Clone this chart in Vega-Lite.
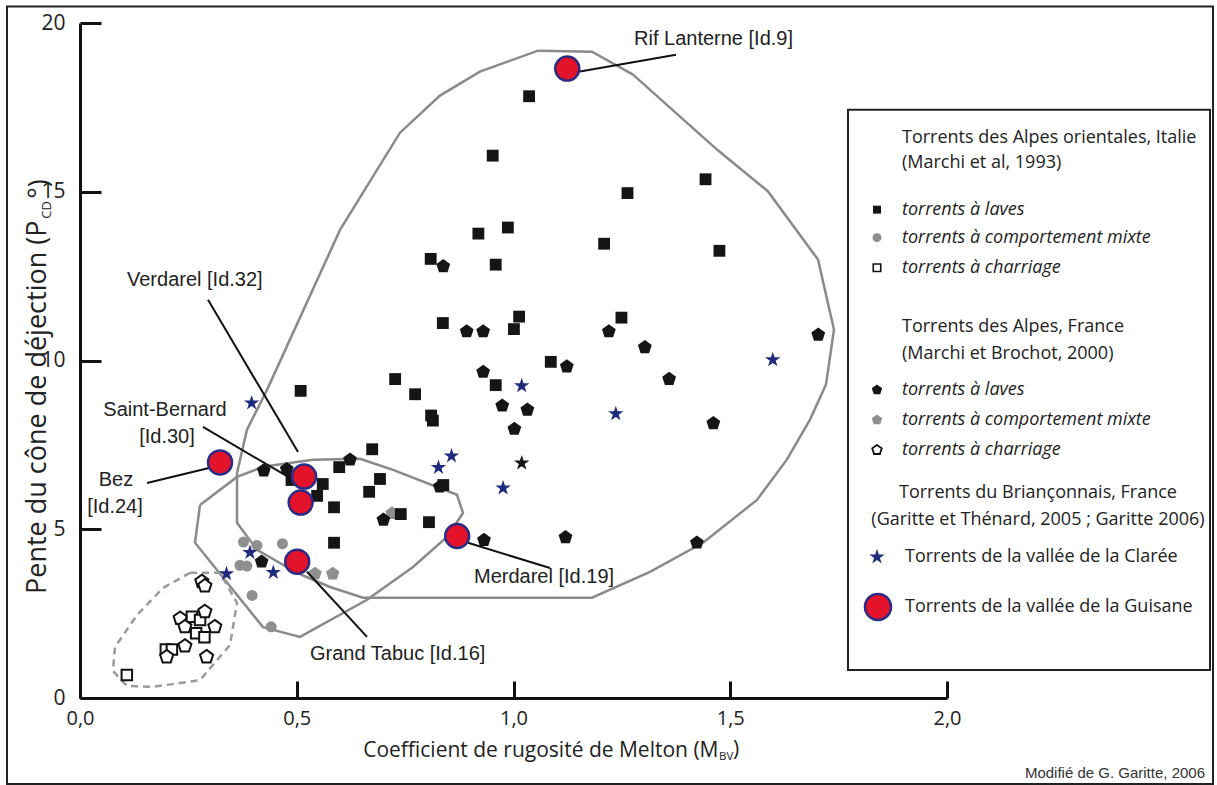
{
  "$schema": "https://vega.github.io/schema/vega-lite/v6.json",
  "width": 867,
  "height": 675,
  "autosize": {"type": "none"},
  "padding": {"left": 80, "top": 23, "right": 270, "bottom": 87},
  "background": "white",
  "config": {"view": {"stroke": null}, "axis": {"grid": false}},
  "datasets": {
    "boxes": [
      {"x": -0.1684, "y": 20.49, "x2": 2.6136, "y2": -2.55},
      {"x": 1.7716, "y": 17.43, "x2": 2.6067, "y2": 0.83}
    ],
    "poly": [
      {"p": "P1", "i": 0, "x": 1.2757, "y": 18.47},
      {"p": "P1", "i": 1, "x": 1.4694, "y": 16.25},
      {"p": "P1", "i": 2, "x": 1.5871, "y": 15.01},
      {"p": "P1", "i": 3, "x": 1.7024, "y": 12.99},
      {"p": "P1", "i": 4, "x": 1.7393, "y": 10.92},
      {"p": "P1", "i": 5, "x": 1.7209, "y": 9.29},
      {"p": "P1", "i": 6, "x": 1.684, "y": 8.25},
      {"p": "P1", "i": 7, "x": 1.6309, "y": 7.07},
      {"p": "P1", "i": 8, "x": 1.5617, "y": 5.87},
      {"p": "P1", "i": 9, "x": 1.4371, "y": 4.6},
      {"p": "P1", "i": 10, "x": 1.3149, "y": 3.74},
      {"p": "P1", "i": 11, "x": 1.1811, "y": 2.97},
      {"p": "P1", "i": 12, "x": 0.6528, "y": 2.97},
      {"p": "P1", "i": 13, "x": 0.5767, "y": 3.29},
      {"p": "P1", "i": 14, "x": 0.5006, "y": 3.71},
      {"p": "P1", "i": 15, "x": 0.4083, "y": 4.39},
      {"p": "P1", "i": 16, "x": 0.3622, "y": 5.19},
      {"p": "P1", "i": 17, "x": 0.3622, "y": 6.67},
      {"p": "P1", "i": 18, "x": 0.3852, "y": 7.95},
      {"p": "P1", "i": 19, "x": 0.4314, "y": 9.13},
      {"p": "P1", "i": 20, "x": 0.5998, "y": 13.87},
      {"p": "P1", "i": 21, "x": 0.7382, "y": 16.75},
      {"p": "P1", "i": 22, "x": 0.8304, "y": 17.85},
      {"p": "P1", "i": 23, "x": 0.9227, "y": 18.56},
      {"p": "P1", "i": 24, "x": 1.0565, "y": 19.18},
      {"p": "P1", "i": 25, "x": 1.1811, "y": 19.15},
      {"p": "P1", "i": 26, "x": 1.2757, "y": 18.47},
      {"p": "P2", "i": 0, "x": 0.2768, "y": 5.72},
      {"p": "P2", "i": 1, "x": 0.3622, "y": 6.55},
      {"p": "P2", "i": 2, "x": 0.4221, "y": 6.85},
      {"p": "P2", "i": 3, "x": 0.5375, "y": 7.06},
      {"p": "P2", "i": 4, "x": 0.6459, "y": 7.09},
      {"p": "P2", "i": 5, "x": 0.722, "y": 6.76},
      {"p": "P2", "i": 6, "x": 0.8697, "y": 6.02},
      {"p": "P2", "i": 7, "x": 0.8835, "y": 5.48},
      {"p": "P2", "i": 8, "x": 0.8466, "y": 4.77},
      {"p": "P2", "i": 9, "x": 0.7682, "y": 3.88},
      {"p": "P2", "i": 10, "x": 0.6621, "y": 2.91},
      {"p": "P2", "i": 11, "x": 0.5075, "y": 1.81},
      {"p": "P2", "i": 12, "x": 0.4221, "y": 2.1},
      {"p": "P2", "i": 13, "x": 0.2653, "y": 4.6},
      {"p": "P2", "i": 14, "x": 0.2768, "y": 5.72},
      {"p": "P3", "i": 0, "x": 0.2537, "y": 3.71},
      {"p": "P3", "i": 1, "x": 0.323, "y": 3.71},
      {"p": "P3", "i": 2, "x": 0.3622, "y": 2.82},
      {"p": "P3", "i": 3, "x": 0.346, "y": 1.57},
      {"p": "P3", "i": 4, "x": 0.2768, "y": 0.53},
      {"p": "P3", "i": 5, "x": 0.1684, "y": 0.33},
      {"p": "P3", "i": 6, "x": 0.1084, "y": 0.36},
      {"p": "P3", "i": 7, "x": 0.0761, "y": 0.8},
      {"p": "P3", "i": 8, "x": 0.0807, "y": 1.51},
      {"p": "P3", "i": 9, "x": 0.1315, "y": 2.46},
      {"p": "P3", "i": 10, "x": 0.1915, "y": 3.26},
      {"p": "P3", "i": 11, "x": 0.2537, "y": 3.71}
    ],
    "pts": [
      {"g": "it_laves", "x": 1.036, "y": 17.83},
      {"g": "it_laves", "x": 0.952, "y": 16.07},
      {"g": "it_laves", "x": 1.443, "y": 15.37},
      {"g": "it_laves", "x": 1.263, "y": 14.96},
      {"g": "it_laves", "x": 0.919, "y": 13.76},
      {"g": "it_laves", "x": 0.987, "y": 13.94},
      {"g": "it_laves", "x": 1.209, "y": 13.46},
      {"g": "it_laves", "x": 1.475, "y": 13.25},
      {"g": "it_laves", "x": 0.809, "y": 13.01},
      {"g": "it_laves", "x": 0.959, "y": 12.84},
      {"g": "it_laves", "x": 0.837, "y": 11.11},
      {"g": "it_laves", "x": 1.013, "y": 11.3},
      {"g": "it_laves", "x": 1.001, "y": 10.93},
      {"g": "it_laves", "x": 1.249, "y": 11.27},
      {"g": "it_laves", "x": 1.086, "y": 9.96},
      {"g": "it_laves", "x": 0.727, "y": 9.45},
      {"g": "it_laves", "x": 0.773, "y": 9.0},
      {"g": "it_laves", "x": 0.81, "y": 8.37},
      {"g": "it_laves", "x": 0.814, "y": 8.22},
      {"g": "it_laves", "x": 0.959, "y": 9.27},
      {"g": "it_laves", "x": 0.692, "y": 6.49},
      {"g": "it_laves", "x": 0.838, "y": 6.31},
      {"g": "it_laves", "x": 0.74, "y": 5.45},
      {"g": "it_laves", "x": 0.805, "y": 5.21},
      {"g": "it_laves", "x": 0.509, "y": 9.1},
      {"g": "it_laves", "x": 0.674, "y": 7.37},
      {"g": "it_laves", "x": 0.598, "y": 6.84},
      {"g": "it_laves", "x": 0.56, "y": 6.34},
      {"g": "it_laves", "x": 0.547, "y": 5.99},
      {"g": "it_laves", "x": 0.586, "y": 5.65},
      {"g": "it_laves", "x": 0.667, "y": 6.11},
      {"g": "it_laves", "x": 0.586, "y": 4.6},
      {"g": "it_laves", "x": 0.488, "y": 6.46},
      {"g": "it_mixte", "x": 0.377, "y": 4.62},
      {"g": "it_mixte", "x": 0.408, "y": 4.52},
      {"g": "it_mixte", "x": 0.467, "y": 4.57},
      {"g": "it_mixte", "x": 0.369, "y": 3.93},
      {"g": "it_mixte", "x": 0.385, "y": 3.91},
      {"g": "it_mixte", "x": 0.397, "y": 3.04},
      {"g": "it_mixte", "x": 0.441, "y": 2.11},
      {"g": "it_charriage", "x": 0.258, "y": 2.41},
      {"g": "it_charriage", "x": 0.277, "y": 2.31},
      {"g": "it_charriage", "x": 0.268, "y": 1.92},
      {"g": "it_charriage", "x": 0.287, "y": 1.8},
      {"g": "it_charriage", "x": 0.198, "y": 1.44},
      {"g": "it_charriage", "x": 0.212, "y": 1.44},
      {"g": "it_charriage", "x": 0.108, "y": 0.68},
      {"g": "fr_laves", "x": 0.838, "y": 12.79},
      {"g": "fr_laves", "x": 0.892, "y": 10.86},
      {"g": "fr_laves", "x": 0.93, "y": 10.86},
      {"g": "fr_laves", "x": 1.22, "y": 10.86},
      {"g": "fr_laves", "x": 1.303, "y": 10.39},
      {"g": "fr_laves", "x": 1.123, "y": 9.82},
      {"g": "fr_laves", "x": 1.703, "y": 10.76},
      {"g": "fr_laves", "x": 0.93, "y": 9.66},
      {"g": "fr_laves", "x": 1.359, "y": 9.45},
      {"g": "fr_laves", "x": 0.974, "y": 8.66},
      {"g": "fr_laves", "x": 1.032, "y": 8.54},
      {"g": "fr_laves", "x": 1.002, "y": 7.97},
      {"g": "fr_laves", "x": 1.461, "y": 8.14},
      {"g": "fr_laves", "x": 0.83, "y": 6.26},
      {"g": "fr_laves", "x": 0.7, "y": 5.28},
      {"g": "fr_laves", "x": 0.932, "y": 4.68},
      {"g": "fr_laves", "x": 1.12, "y": 4.76},
      {"g": "fr_laves", "x": 1.423, "y": 4.6},
      {"g": "fr_laves", "x": 0.424, "y": 6.74},
      {"g": "fr_laves", "x": 0.477, "y": 6.78},
      {"g": "fr_laves", "x": 0.623, "y": 7.06},
      {"g": "fr_laves", "x": 0.419, "y": 4.04},
      {"g": "fr_mixte", "x": 0.72, "y": 5.47},
      {"g": "fr_mixte", "x": 0.542, "y": 3.68},
      {"g": "fr_mixte", "x": 0.583, "y": 3.68},
      {"g": "fr_charriage", "x": 0.281, "y": 3.45},
      {"g": "fr_charriage", "x": 0.288, "y": 3.32},
      {"g": "fr_charriage", "x": 0.288, "y": 2.56},
      {"g": "fr_charriage", "x": 0.231, "y": 2.36},
      {"g": "fr_charriage", "x": 0.242, "y": 2.11},
      {"g": "fr_charriage", "x": 0.311, "y": 2.11},
      {"g": "fr_charriage", "x": 0.242, "y": 1.54},
      {"g": "fr_charriage", "x": 0.2, "y": 1.22},
      {"g": "fr_charriage", "x": 0.292, "y": 1.22},
      {"g": "claree", "x": 0.396, "y": 8.74},
      {"g": "claree", "x": 1.019, "y": 9.25},
      {"g": "claree", "x": 1.598, "y": 10.02},
      {"g": "claree", "x": 1.236, "y": 8.42},
      {"g": "claree", "x": 0.857, "y": 7.17},
      {"g": "claree", "x": 0.827, "y": 6.83},
      {"g": "claree", "x": 0.976, "y": 6.22},
      {"g": "claree", "x": 0.392, "y": 4.31},
      {"g": "claree", "x": 0.446, "y": 3.72},
      {"g": "claree", "x": 0.338, "y": 3.68},
      {"g": "etoile", "x": 1.019, "y": 6.96},
      {"g": "guisane", "x": 1.124, "y": 18.65, "nom": "Rif Lanterne"},
      {"g": "guisane", "x": 0.323, "y": 6.98, "nom": "Bez"},
      {"g": "guisane", "x": 0.517, "y": 6.56, "nom": "Verdarel"},
      {"g": "guisane", "x": 0.509, "y": 5.79, "nom": "Saint-Bernard"},
      {"g": "guisane", "x": 0.501, "y": 4.04, "nom": "Grand Tabuc"},
      {"g": "guisane", "x": 0.87, "y": 4.8, "nom": "Merdarel"}
    ],
    "leaders": [
      {"x": 1.1534, "y": 18.56, "x2": 1.3749, "y2": 19.06},
      {"x": 0.2953, "y": 11.8, "x2": 0.5029, "y2": 7.29},
      {"x": 0.2837, "y": 8.03, "x2": 0.4844, "y2": 6.52},
      {"x": 0.1546, "y": 6.37, "x2": 0.2999, "y2": 6.82},
      {"x": 0.895, "y": 4.6, "x2": 1.0842, "y2": 3.85},
      {"x": 0.5236, "y": 3.74, "x2": 0.6621, "y2": 1.81}
    ],
    "labelsLeft": [
      {"x": 1.278, "y": 19.54, "t": "Rif Lanterne [Id.9]"},
      {"x": 0.1084, "y": 12.39, "t": "Verdarel [Id.32]"},
      {"x": 0.9089, "y": 3.59, "t": "Merdarel [Id.19]"},
      {"x": 0.5306, "y": 1.3, "t": "Grand Tabuc [Id.16]"}
    ],
    "labelsCenter": [
      {"x": 0.1961, "y": 8.54, "t": "Saint-Bernard"},
      {"x": 0.2007, "y": 7.74, "t": "[Id.30]"},
      {"x": 0.083, "y": 6.46, "t": "Bez"},
      {"x": 0.0807, "y": 5.66, "t": "[Id.24]"}
    ],
    "legpts": [
      {"g": "it_laves", "x": 1.8385, "y": 14.47},
      {"g": "it_mixte", "x": 1.8385, "y": 13.64},
      {"g": "it_charriage", "x": 1.8385, "y": 12.75},
      {"g": "fr_laves", "x": 1.8385, "y": 9.13},
      {"g": "fr_mixte", "x": 1.8385, "y": 8.24},
      {"g": "fr_charriage", "x": 1.8385, "y": 7.35},
      {"g": "claree", "x": 1.8385, "y": 4.18},
      {"g": "guisane", "x": 1.8408, "y": 2.7}
    ],
    "legHead": [
      {"x": 1.8962, "y": 16.6, "t": "Torrents des Alpes orientales, Italie"},
      {"x": 1.8962, "y": 15.86, "t": "(Marchi et al, 1993)"},
      {"x": 1.8962, "y": 11.0, "t": "Torrents des Alpes, France"},
      {"x": 1.8962, "y": 10.2, "t": "(Marchi et Brochot, 2000)"},
      {"x": 1.9031, "y": 4.18, "t": "Torrents de la vallée de la Clarée"},
      {"x": 1.9031, "y": 2.7, "t": "Torrents de la vallée de la Guisane"}
    ],
    "legCenter": [
      {"x": 2.2099, "y": 6.08, "t": "Torrents du Briançonnais, France"},
      {"x": 2.2099, "y": 5.28, "t": "(Garitte et Thénard, 2005 ; Garitte 2006)"}
    ],
    "legItal": [
      {"x": 1.8962, "y": 14.47, "t": "torrents à laves"},
      {"x": 1.8962, "y": 13.64, "t": "torrents à comportement mixte"},
      {"x": 1.8962, "y": 12.75, "t": "torrents à charriage"},
      {"x": 1.8962, "y": 9.13, "t": "torrents à laves"},
      {"x": 1.8962, "y": 8.24, "t": "torrents à comportement mixte"},
      {"x": 1.8962, "y": 7.35, "t": "torrents à charriage"}
    ],
    "xsub": [{"x": 1.474, "y": -1.75, "t": "BV"}],
    "xclose": [{"x": 1.5063, "y": -1.542, "t": ")"}],
    "ysub": [{"x": -0.0761, "y": 14.2, "t": "CD"}],
    "yclose": [{"x": -0.0923, "y": 14.79, "t": "°)"}],
    "credit": [{"x": 2.5952, "y": -2.224, "t": "Modifié de G. Garitte, 2006"}]
  },
  "encoding": {
    "x": {
      "field": "x",
      "type": "quantitative",
      "scale": {"domain": [0, 2], "nice": false, "zero": false},
      "axis": {
        "values": [0, 0.5, 1, 1.5, 2],
        "labelExpr": "replace(format(datum.value, '.1f'), '.', ',')",
        "grid": false,
        "domainColor": "#111111",
        "domainWidth": 3,
        "tickColor": "#111111",
        "tickWidth": 3,
        "tickSize": -17,
        "labelPadding": 27,
        "labelFlush": false,
        "labelOverlap": false,
        "labelFont": "Open Sans",
        "labelFontSize": 20,
        "labelColor": "#222222",
        "title": "Coefficient de rugosité de Melton (M",
        "titleFont": "Open Sans",
        "titleFontSize": 21,
        "titleFontWeight": "normal",
        "titleColor": "#222222",
        "titleX": 638,
        "titleY": 52,
        "titleAlign": "right",
        "titleBaseline": "middle"
      }
    },
    "y": {
      "field": "y",
      "type": "quantitative",
      "scale": {"domain": [0, 20], "nice": false, "zero": false},
      "axis": {
        "values": [0, 5, 10, 15, 20],
        "grid": false,
        "domainColor": "#111111",
        "domainWidth": 3,
        "tickColor": "#111111",
        "tickWidth": 3,
        "tickSize": -21,
        "labelPadding": 36,
        "labelFlush": false,
        "labelOverlap": false,
        "labelFont": "Open Sans",
        "labelFontSize": 21,
        "labelColor": "#222222",
        "title": "Pente du cône de déjection (P",
        "titleFont": "Open Sans",
        "titleFontSize": 27,
        "titleFontWeight": "normal",
        "titleColor": "#222222",
        "titleX": -43,
        "titleY": 197,
        "titleAngle": 270,
        "titleAlign": "right",
        "titleBaseline": "middle"
      }
    }
  },
  "layer": [
    {
      "data": {"name": "boxes"},
      "mark": {"type": "rect", "filled": false, "color": "#222222", "strokeWidth": 2},
      "encoding": {"x2": {"field": "x2"}, "y2": {"field": "y2"}}
    },
    {
      "data": {"name": "poly"},
      "transform": [{"filter": "datum.p !== 'P3'"}],
      "mark": {"type": "line", "color": "#8a8a8a", "strokeWidth": 2.5},
      "encoding": {"detail": {"field": "p"}, "order": {"field": "i", "type": "quantitative"}}
    },
    {
      "data": {"name": "poly"},
      "transform": [{"filter": "datum.p === 'P3'"}],
      "mark": {"type": "line", "color": "#9a9a9a", "strokeWidth": 2.5, "strokeDash": [7, 5]},
      "encoding": {"detail": {"field": "p"}, "order": {"field": "i", "type": "quantitative"}}
    },
    {
      "data": {"name": "pts"},
      "transform": [{"filter": "datum.g === 'it_mixte'"}],
      "mark": {"type": "point", "shape": "circle", "filled": true, "color": "#8f8f8f", "size": 121, "opacity": 1}
    },
    {
      "data": {"name": "pts"},
      "transform": [{"filter": "datum.g === 'fr_mixte'"}],
      "mark": {"type": "point", "shape": "M0,-1L0.951,-0.309L0.588,0.809L-0.588,0.809L-0.951,-0.309Z", "filled": true, "color": "#8f8f8f", "size": 200, "opacity": 1}
    },
    {
      "data": {"name": "pts"},
      "transform": [{"filter": "datum.g === 'it_charriage'"}],
      "mark": {"type": "point", "shape": "square", "fill": "#ffffff", "stroke": "#111111", "strokeWidth": 2, "size": 110, "opacity": 1}
    },
    {
      "data": {"name": "pts"},
      "transform": [{"filter": "datum.g === 'fr_charriage'"}],
      "mark": {"type": "point", "shape": "M0,-1L0.951,-0.309L0.588,0.809L-0.588,0.809L-0.951,-0.309Z", "fill": "#ffffff", "stroke": "#111111", "strokeWidth": 2, "size": 190, "opacity": 1}
    },
    {
      "data": {"name": "pts"},
      "transform": [{"filter": "datum.g === 'it_laves'"}],
      "mark": {"type": "point", "shape": "square", "filled": true, "color": "#151515", "size": 140, "opacity": 1}
    },
    {
      "data": {"name": "pts"},
      "transform": [{"filter": "datum.g === 'fr_laves'"}],
      "mark": {"type": "point", "shape": "M0,-1L0.951,-0.309L0.588,0.809L-0.588,0.809L-0.951,-0.309Z", "filled": true, "color": "#151515", "size": 210, "opacity": 1}
    },
    {
      "data": {"name": "pts"},
      "transform": [{"filter": "datum.g === 'etoile'"}],
      "mark": {"type": "point", "shape": "M0,-1L0.2245,-0.309L0.951,-0.309L0.3633,0.118L0.588,0.809L0,0.382L-0.588,0.809L-0.3633,0.118L-0.951,-0.309L-0.2245,-0.309Z", "filled": true, "color": "#151515", "size": 260, "opacity": 1}
    },
    {
      "data": {"name": "pts"},
      "transform": [{"filter": "datum.g === 'claree'"}],
      "mark": {"type": "point", "shape": "M0,-1L0.2245,-0.309L0.951,-0.309L0.3633,0.118L0.588,0.809L0,0.382L-0.588,0.809L-0.3633,0.118L-0.951,-0.309L-0.2245,-0.309Z", "filled": true, "color": "#1e2a7e", "size": 260, "opacity": 1}
    },
    {
      "data": {"name": "leaders"},
      "mark": {"type": "rule", "color": "#111111", "strokeWidth": 2},
      "encoding": {"x2": {"field": "x2"}, "y2": {"field": "y2"}}
    },
    {
      "data": {"name": "pts"},
      "transform": [{"filter": "datum.g === 'guisane'"}],
      "mark": {"type": "point", "shape": "circle", "fill": "#e3132b", "stroke": "#2b2b86", "strokeWidth": 2.5, "size": 576, "opacity": 1}
    },
    {
      "data": {"name": "labelsLeft"},
      "mark": {"type": "text", "align": "left", "baseline": "middle", "font": "Liberation Sans", "fontSize": 20, "color": "#222222"},
      "encoding": {"text": {"field": "t"}}
    },
    {
      "data": {"name": "labelsCenter"},
      "mark": {"type": "text", "align": "center", "baseline": "middle", "font": "Liberation Sans", "fontSize": 20, "color": "#222222"},
      "encoding": {"text": {"field": "t"}}
    },
    {
      "data": {"name": "legpts"},
      "transform": [{"filter": "datum.g === 'it_laves'"}],
      "mark": {"type": "point", "shape": "square", "filled": true, "color": "#151515", "size": 64, "opacity": 1}
    },
    {
      "data": {"name": "legpts"},
      "transform": [{"filter": "datum.g === 'it_mixte'"}],
      "mark": {"type": "point", "shape": "circle", "filled": true, "color": "#8f8f8f", "size": 81, "opacity": 1}
    },
    {
      "data": {"name": "legpts"},
      "transform": [{"filter": "datum.g === 'it_charriage'"}],
      "mark": {"type": "point", "shape": "square", "fill": "#ffffff", "stroke": "#111111", "strokeWidth": 1.6, "size": 56, "opacity": 1}
    },
    {
      "data": {"name": "legpts"},
      "transform": [{"filter": "datum.g === 'fr_laves'"}],
      "mark": {"type": "point", "shape": "M0,-1L0.951,-0.309L0.588,0.809L-0.588,0.809L-0.951,-0.309Z", "filled": true, "color": "#151515", "size": 120, "opacity": 1}
    },
    {
      "data": {"name": "legpts"},
      "transform": [{"filter": "datum.g === 'fr_mixte'"}],
      "mark": {"type": "point", "shape": "M0,-1L0.951,-0.309L0.588,0.809L-0.588,0.809L-0.951,-0.309Z", "filled": true, "color": "#8f8f8f", "size": 120, "opacity": 1}
    },
    {
      "data": {"name": "legpts"},
      "transform": [{"filter": "datum.g === 'fr_charriage'"}],
      "mark": {"type": "point", "shape": "M0,-1L0.951,-0.309L0.588,0.809L-0.588,0.809L-0.951,-0.309Z", "fill": "#ffffff", "stroke": "#111111", "strokeWidth": 1.8, "size": 100, "opacity": 1}
    },
    {
      "data": {"name": "legpts"},
      "transform": [{"filter": "datum.g === 'claree'"}],
      "mark": {"type": "point", "shape": "M0,-1L0.2245,-0.309L0.951,-0.309L0.3633,0.118L0.588,0.809L0,0.382L-0.588,0.809L-0.3633,0.118L-0.951,-0.309L-0.2245,-0.309Z", "filled": true, "color": "#1e2a7e", "size": 260, "opacity": 1}
    },
    {
      "data": {"name": "legpts"},
      "transform": [{"filter": "datum.g === 'guisane'"}],
      "mark": {"type": "point", "shape": "circle", "fill": "#e3132b", "stroke": "#2b2b86", "strokeWidth": 2.5, "size": 676, "opacity": 1}
    },
    {
      "data": {"name": "legHead"},
      "mark": {"type": "text", "align": "left", "baseline": "middle", "font": "Open Sans", "fontSize": 18, "color": "#222222"},
      "encoding": {"text": {"field": "t"}}
    },
    {
      "data": {"name": "legCenter"},
      "mark": {"type": "text", "align": "center", "baseline": "middle", "font": "Open Sans", "fontSize": 18, "color": "#222222"},
      "encoding": {"text": {"field": "t"}}
    },
    {
      "data": {"name": "legItal"},
      "mark": {"type": "text", "align": "left", "baseline": "middle", "font": "Open Sans", "fontStyle": "italic", "fontSize": 18, "color": "#222222"},
      "encoding": {"text": {"field": "t"}}
    },
    {
      "data": {"name": "xsub"},
      "mark": {"type": "text", "align": "left", "baseline": "middle", "font": "Open Sans", "fontSize": 11.5, "color": "#222222"},
      "encoding": {"text": {"field": "t"}}
    },
    {
      "data": {"name": "xclose"},
      "mark": {"type": "text", "align": "left", "baseline": "middle", "font": "Open Sans", "fontSize": 21, "color": "#222222"},
      "encoding": {"text": {"field": "t"}}
    },
    {
      "data": {"name": "ysub"},
      "mark": {"type": "text", "align": "left", "baseline": "middle", "angle": 270, "font": "Open Sans", "fontSize": 13, "color": "#222222"},
      "encoding": {"text": {"field": "t"}}
    },
    {
      "data": {"name": "yclose"},
      "mark": {"type": "text", "align": "left", "baseline": "middle", "angle": 270, "font": "Open Sans", "fontSize": 27, "color": "#222222"},
      "encoding": {"text": {"field": "t"}}
    },
    {
      "data": {"name": "credit"},
      "mark": {"type": "text", "align": "right", "baseline": "middle", "font": "Liberation Sans", "fontSize": 15, "color": "#333333"},
      "encoding": {"text": {"field": "t"}}
    }
  ]
}
